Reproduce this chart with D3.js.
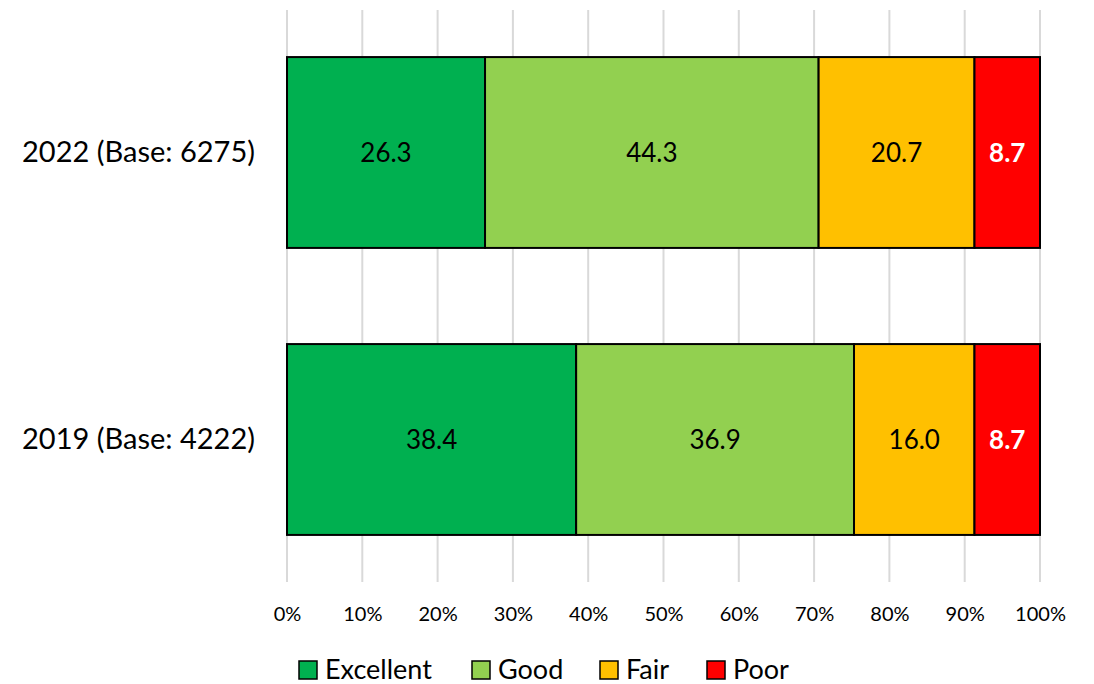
<!DOCTYPE html>
<html>
<head>
<meta charset="utf-8">
<script src="https://cdn.jsdelivr.net/npm/d3@7/dist/d3.min.js"></script>
<style>
  html, body { margin: 0; padding: 0; background: #fff; }
  svg { display: block; font-family: Lato, "Open Sans", sans-serif; }
</style>
</head>
<body>
<svg id="chart" width="1094" height="684"></svg>
<script>
// Rating shares (%) per survey year
const categories = ["2022 (Base: 6275)", "2019 (Base: 4222)"];
const seriesNames = ["Excellent", "Good", "Fair", "Poor"];
const excellent = [26.3, 38.4];
const good = [44.3, 36.9];
const fair = [20.7, 16.0];
const poor = [8.7, 8.7];
const tickValues = [0, 10, 20, 30, 40, 50, 60, 70, 80, 90, 100];
const colors = ["#00b050", "#92d050", "#ffc000", "#ff0000"];

const seriesValues = [excellent, good, fair, poor];
const rows = categories.map((c, i) => {
  const r = { category: c };
  seriesNames.forEach((s, k) => r[s] = seriesValues[k][i]);
  return r;
});

const svg = d3.select("#chart");
const plot = { left: 287, right: 1040, top: 10, bottom: 582 };

const x = d3.scaleLinear().domain([0, 100]).range([plot.left, plot.right]);
const y = d3.scaleBand().domain(categories).range([plot.top, plot.bottom])
  .paddingInner(0.335).paddingOuter(0.164);

// vertical gridlines
svg.append("g")
  .selectAll("line")
  .data(tickValues)
  .join("line")
  .attr("x1", d => x(d)).attr("x2", d => x(d))
  .attr("y1", plot.top).attr("y2", plot.bottom)
  .attr("stroke", "#d9d9d9").attr("stroke-width", 2);

// percentage axis labels
const xAxis = d3.axisBottom(x).tickValues(tickValues).tickFormat(d => d + "%").tickSize(0).tickPadding(0);
const gx = svg.append("g").attr("transform", `translate(0,${plot.bottom + 25})`).call(xAxis);
gx.select(".domain").remove();
gx.selectAll("text").attr("font-size", 20).attr("fill", "#000").attr("font-family", "Lato, sans-serif");

// stacked bars
const stack = d3.stack().keys(seriesNames)(rows);
const color = d3.scaleOrdinal().domain(seriesNames).range(colors);

const layers = svg.append("g").selectAll("g")
  .data(stack)
  .join("g")
  .attr("fill", d => color(d.key));

layers.selectAll("rect")
  .data(d => d.map(v => Object.assign(v, { key: d.key })))
  .join("rect")
  .attr("x", d => x(d[0]))
  .attr("width", d => x(d[1]) - x(d[0]))
  .attr("y", d => y(d.data.category))
  .attr("height", y.bandwidth())
  .attr("stroke", "#000")
  .attr("stroke-width", 2);

layers.selectAll("text")
  .data(d => d)
  .join("text")
  .attr("x", d => (x(d[0]) + x(d[1])) / 2)
  .attr("y", d => y(d.data.category) + y.bandwidth() / 2)
  .attr("dy", "0.36em")
  .attr("text-anchor", "middle")
  .attr("font-size", 26)
  .attr("fill", d => d.key === "Poor" ? "#fff" : "#000")
  .attr("font-weight", d => d.key === "Poor" ? "bold" : "normal")
  .text(d => (d[1] - d[0]).toFixed(1));

// category labels
const yAxis = d3.axisLeft(y).tickSize(0).tickPadding(32);
const gy = svg.append("g").attr("transform", `translate(${plot.left},0)`).call(yAxis);
gy.select(".domain").remove();
gy.selectAll("text").attr("font-size", 29).attr("fill", "#000").attr("font-family", "Lato, sans-serif");

// legend
const legendX = [299, 472, 600, 707];
const legend = svg.append("g").selectAll("g")
  .data(seriesNames)
  .join("g")
  .attr("transform", (d, i) => `translate(${legendX[i]},661)`);
legend.append("rect")
  .attr("width", 18).attr("height", 18)
  .attr("fill", d => color(d))
  .attr("stroke", "#000").attr("stroke-width", 1.5);
legend.append("text")
  .attr("x", 26).attr("y", 18)
  .attr("font-size", 27)
  .text(d => d);
</script>
</body>
</html>
